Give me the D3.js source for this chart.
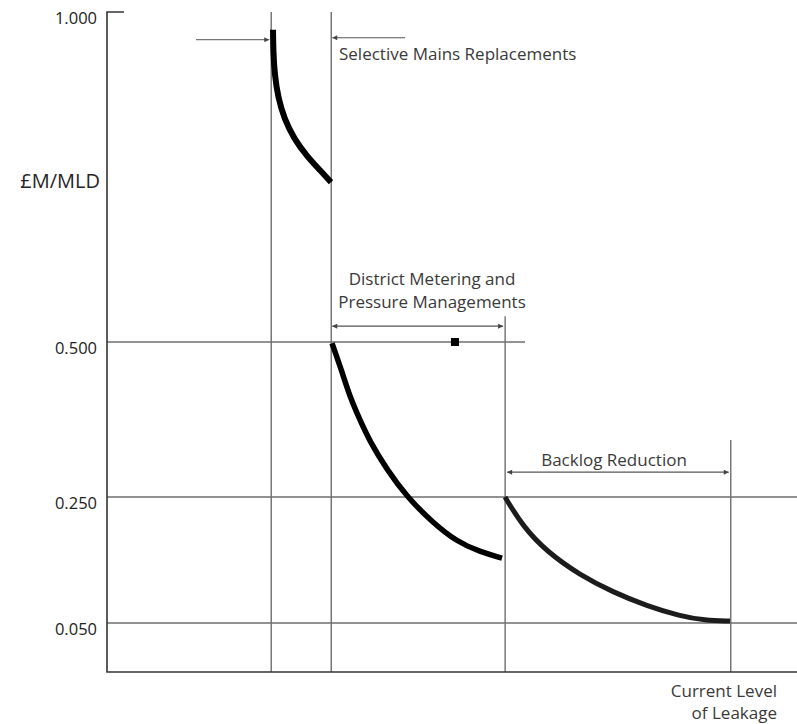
<!DOCTYPE html>
<html><head><meta charset="utf-8">
<script src="https://cdn.jsdelivr.net/npm/d3@7"></script>
<style>body{margin:0;background:#fff}svg{display:block}text{font-family:"Open Sans",sans-serif}</style>
</head><body><svg id="c" width="797" height="724"></svg>
<script>
// ---- data ----
const yTicks = [1.000, 0.500, 0.250, 0.050];
const yTickLabels = ["1.000", "0.500", "0.250", "0.050"];
const yAxisLabel = "£M/MLD";
// stage boundaries on the (unitless) leakage axis
const boundaries = [23.8, 32.5, 57.7, 90.4];
const boundaryTops = [1.0, 1.0, 0.539, 0.342];
// cost curves
const selectiveX = [24.06, 24.10, 24.30, 24.80, 25.70, 27.10, 29.00, 30.90, 32.46];
const selectiveY = [0.973, 0.940, 0.905, 0.870, 0.838, 0.808, 0.781, 0.760, 0.742];
const meteringX = [32.61, 34.06, 35.22, 36.67, 38.12, 40.58, 43.48, 47.25, 50.72, 54.06, 57.25];
const meteringY = [0.498, 0.452, 0.411, 0.374, 0.339, 0.294, 0.250, 0.209, 0.179, 0.163, 0.153];
const backlogX = [57.68, 60.29, 63.77, 68.55, 73.33, 78.26, 83.04, 86.67, 90.29];
const backlogY = [0.250, 0.203, 0.163, 0.126, 0.099, 0.077, 0.061, 0.054, 0.053];
const markerPoint = [50.43, 0.5];
const labels = {
  selective: "Selective Mains Replacements",
  metering: ["District Metering and", "Pressure Managements"],
  backlog: "Backlog Reduction",
  current: ["Current Level", "of Leakage"]
};

// ---- scales ----
const x = d3.scaleLinear().domain([0, 100]).range([107, 797]);
const y = d3.scaleLinear().domain([0, 0.05, 0.25, 0.5, 1]).range([672, 623, 497, 342, 12]);

const svg = d3.select("#c");
const defs = svg.append("defs");
defs.append("marker").attr("id", "arr").attr("viewBox", "0 0 10 10").attr("refX", 10).attr("refY", 5)
  .attr("markerWidth", 7).attr("markerHeight", 5).attr("markerUnits", "userSpaceOnUse")
  .attr("orient", "auto-start-reverse")
  .append("path").attr("d", "M0,0L10,5L0,10z").attr("fill", "#444");

const grid = "#6e6e6e";
// horizontal gridlines
const gridEnds = {0.5: x.invert(525), 0.25: 100, 0.05: 100};
[0.5, 0.25, 0.05].forEach(v => {
  svg.append("line").attr("x1", x(0)).attr("x2", x(gridEnds[v])).attr("y1", y(v)).attr("y2", y(v))
    .attr("stroke", grid).attr("stroke-width", 1.4);
});
// vertical boundaries
boundaries.forEach((b, i) => {
  svg.append("line").attr("x1", x(b)).attr("x2", x(b)).attr("y1", y(boundaryTops[i])).attr("y2", y(0))
    .attr("stroke", grid).attr("stroke-width", 1.4);
});
// axes
svg.append("path").attr("d", `M${x(0)+17},${y(1)}H${x(0)}V${y(0)}H${x(100)}`)
  .attr("fill", "none").attr("stroke", "#333").attr("stroke-width", 1.6);

// tick labels
svg.selectAll("text.tick").data(yTicks).join("text").attr("class", "tick")
  .attr("x", 97).attr("y", d => y(d) + 12).attr("text-anchor", "end")
  .attr("font-size", 16.5).attr("font-weight", 500).attr("fill", "#222").text((d, i) => yTickLabels[i]);
svg.append("text").attr("x", 100).attr("y", 188).attr("text-anchor", "end")
  .attr("font-size", 20).attr("fill", "#262626").text(yAxisLabel);

// curves
const line = d3.line().x(d => x(d[0])).y(d => y(d[1])).curve(d3.curveBasis);
function curve(xs, ys, w, col) {
  svg.append("path").attr("d", line(xs.map((v, i) => [v, ys[i]])))
    .attr("fill", "none").attr("stroke", col).attr("stroke-width", w).attr("stroke-linecap", "butt");
}
curve(selectiveX, selectiveY, 6, "#000");
curve(meteringX, meteringY, 5.5, "#000");
curve(backlogX, backlogY, 5, "#1c1c1c");

// marker square
svg.append("rect").attr("x", x(markerPoint[0]) - 4).attr("y", y(markerPoint[1]) - 4)
  .attr("width", 8).attr("height", 8).attr("fill", "#000");

// arrows
function arrow(x1, x2, yy, both, col) {
  const l = svg.append("line").attr("x1", x1).attr("x2", x2).attr("y1", yy).attr("y2", yy)
    .attr("stroke", col).attr("stroke-width", 1.2).attr("marker-end", "url(#arr)");
  if (both) l.attr("marker-start", "url(#arr)");
}
arrow(196, x(boundaries[0]) - 2, y(0.958), false, "#777");
arrow(405, x(boundaries[1]) + 1, y(0.961), false, "#555");
arrow(x(boundaries[1]) + 1, x(boundaries[2]) - 2, y(0.524), true, "#555");
arrow(x(boundaries[2]) + 2, x(boundaries[3]) - 2, y(0.290), true, "#555");

const ann = "#3a3a3a";
svg.append("text").attr("x", 339).attr("y", 60).attr("font-size", 17).attr("fill", ann).text(labels.selective);
svg.append("text").attr("x", 432).attr("y", 285).attr("text-anchor", "middle").attr("font-size", 17).attr("fill", ann)
  .selectAll("tspan").data(labels.metering).join("tspan").attr("x", 432).attr("dy", (d, i) => i ? 23 : 0).text(d => d);
svg.append("text").attr("x", 614).attr("y", 466).attr("text-anchor", "middle").attr("font-size", 17).attr("fill", ann).text(labels.backlog);
svg.append("text").attr("y", 697).attr("text-anchor", "end").attr("font-size", 17).attr("fill", ann)
  .selectAll("tspan").data(labels.current).join("tspan").attr("x", 777).attr("dy", (d, i) => i ? 22 : 0).text(d => d);
</script></body></html>
